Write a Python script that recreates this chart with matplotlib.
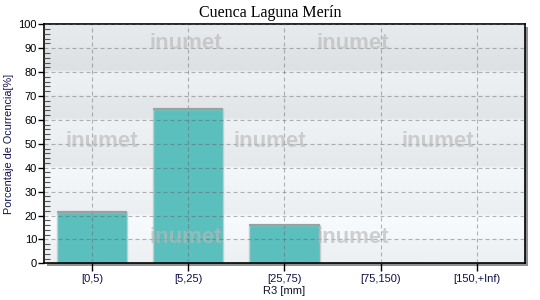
import numpy as np
import matplotlib
matplotlib.use("Agg")
import matplotlib.pyplot as plt
from matplotlib.patches import Rectangle

# Data
categories = ["[0,5)", "[5,25)", "[25,75)", "[75,150)", "[150,+Inf)"]
porcentaje = [21.6, 64.6, 15.9, 0.0, 0.0]

plt.rcParams["font.family"] = ["Liberation Sans", "DejaVu Sans"]

fig = plt.figure(figsize=(5.4, 3.0), dpi=100)
fig.patch.set_facecolor("white")
ax = fig.add_axes([0.0815, 0.1223, 0.8905, 0.7967])
ax.set_zorder(2)

# Shadow behind the plot area
sh = Rectangle((0.0815 + 3 / 540, 0.1223 - 3 / 300), 0.8905, 0.7967,
               transform=fig.transFigure, facecolor="#909090",
               edgecolor="none", zorder=-1)
fig.patches.append(sh)

# Banded gradient background (bottom band first)
band_levels = [0.945, 0.975, 0.94, 0.96, 0.915, 0.94, 0.90, 0.935, 0.885, 0.91]
rows = []
for lv in band_levels:
    for k in range(10):
        v = lv + 0.012 * (k / 9.0 - 0.5)
        rows.append([v - 0.008, v + 0.004, v + 0.012])
bg = np.clip(np.array(rows)[::-1], 0, 1).reshape(100, 1, 3)
ax.imshow(bg, extent=(0, 1, 0, 1), transform=ax.transAxes, aspect="auto",
          zorder=0, interpolation="bilinear")

x = np.arange(len(categories))
w = 0.73
ax.bar(x, porcentaje, width=w, color="#5bbfbd", edgecolor="#c6cbcb",
       linewidth=1.0, zorder=2)
for xi, v in zip(x, porcentaje):
    if v > 0:
        ax.hlines(v, xi - w / 2, xi + w / 2, color="#98a2a2", lw=1.6, zorder=3)

ax.set_xlim(-0.5, len(categories) - 0.5)
ax.set_ylim(0, 100)
ax.set_yticks(np.arange(0, 101, 10))
ax.set_yticks(np.arange(0, 101, 2), minor=True)
ax.set_xticks(x)
ax.set_xticklabels(categories)

ax.set_axisbelow(False)
ax.grid(True, which="major", color="#5e5e5e", alpha=0.45,
        linestyle=(0, (3.6, 2.7)), linewidth=0.8)

ax.tick_params(axis="y", which="major", direction="out", length=4, width=1,
               labelsize=8, pad=1, colors="black")
ax.tick_params(axis="y", which="minor", direction="in", length=4, width=0.8,
               color="#555555")
ax.tick_params(axis="x", which="major", direction="out", length=6, width=1,
               labelsize=8, pad=2, labelcolor="#10104a")
ax.tick_params(axis="x", which="minor", bottom=False)

for s in ax.spines.values():
    s.set_linewidth(1.2)
    s.set_color("black")

ax.set_ylabel("Porcentaje de Ocurrencia[%]", fontsize=7.8, color="#101050",
              labelpad=3)
ax.set_xlabel("R3 [mm]", fontsize=8, color="#101030", labelpad=1)

fig.text(0.5, 0.958, "Cuenca Laguna Merín", ha="center", va="center",
         fontsize=11.5, family=["Liberation Serif", "DejaVu Serif"])

# Watermarks
marks = [(0.295, 0.918), (0.642, 0.918),
         (0.12, 0.509), (0.47, 0.509), (0.819, 0.509),
         (0.295, 0.11), (0.642, 0.11)]
for mx, my in marks:
    ax.text(mx, my, "inumet", transform=ax.transAxes, ha="center",
            va="center", fontsize=16, fontweight="bold", color="#b8b8b8",
            alpha=0.65, zorder=4)

fig.savefig("out.png", dpi=100)
